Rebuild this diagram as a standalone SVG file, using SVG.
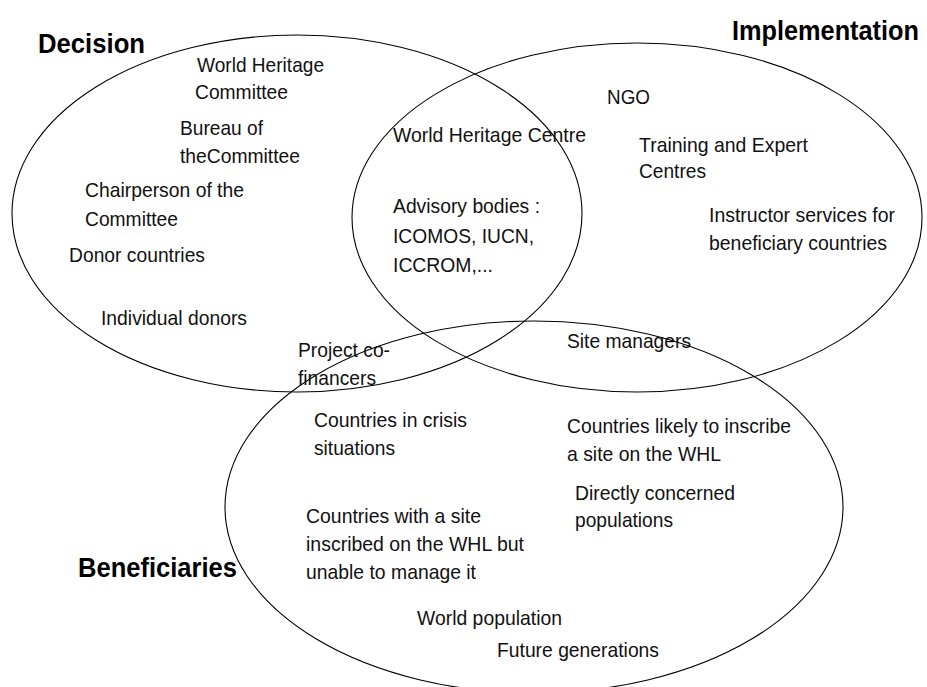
<svg xmlns="http://www.w3.org/2000/svg" width="927" height="687" viewBox="0 0 927 687">
<style>
.set{fill:none;stroke:#000;stroke-width:1.1}
.t{font-family:"Liberation Sans Narrow","Liberation Sans",Arial,sans-serif;font-size:21px;fill:#111}
.h{font-family:"Liberation Sans Narrow","Liberation Sans",Arial,sans-serif;font-size:28px;font-weight:bold;fill:#000}
</style>
<rect width="927" height="687" fill="#fff"/>
<g id="decision">
<ellipse class="set" cx="297" cy="213.5" rx="285" ry="178.5"/>
<text class="h" x="38" y="53" textLength="107" lengthAdjust="spacingAndGlyphs">Decision</text>
<text class="t" x="197" y="72" textLength="127" lengthAdjust="spacingAndGlyphs">World Heritage</text>
<text class="t" x="195" y="99" textLength="93" lengthAdjust="spacingAndGlyphs">Committee</text>
<text class="t" x="180" y="135" textLength="83" lengthAdjust="spacingAndGlyphs">Bureau of</text>
<text class="t" x="180" y="163" textLength="120" lengthAdjust="spacingAndGlyphs">theCommittee</text>
<text class="t" x="85" y="197" textLength="159" lengthAdjust="spacingAndGlyphs">Chairperson of the</text>
<text class="t" x="85" y="226" textLength="93" lengthAdjust="spacingAndGlyphs">Committee</text>
<text class="t" x="69" y="262" textLength="136" lengthAdjust="spacingAndGlyphs">Donor countries</text>
<text class="t" x="101" y="325" textLength="146" lengthAdjust="spacingAndGlyphs">Individual donors</text>
<text class="t" x="298" y="357" textLength="92" lengthAdjust="spacingAndGlyphs">Project co-</text>
<text class="t" x="298" y="385" textLength="78" lengthAdjust="spacingAndGlyphs">financers</text>
</g>
<g id="implementation">
<ellipse class="set" cx="637" cy="217.5" rx="285" ry="174.5"/>
<text class="h" x="732" y="40" textLength="187" lengthAdjust="spacingAndGlyphs">Implementation</text>
<text class="t" x="607" y="104" textLength="43" lengthAdjust="spacingAndGlyphs">NGO</text>
<text class="t" x="639" y="152" textLength="169" lengthAdjust="spacingAndGlyphs">Training and Expert</text>
<text class="t" x="639" y="178" textLength="67" lengthAdjust="spacingAndGlyphs">Centres</text>
<text class="t" x="709" y="222" textLength="186" lengthAdjust="spacingAndGlyphs">Instructor services for</text>
<text class="t" x="709" y="250" textLength="178" lengthAdjust="spacingAndGlyphs">beneficiary countries</text>
<text class="t" x="567" y="348" textLength="124" lengthAdjust="spacingAndGlyphs">Site managers</text>
</g>
<g id="shared">
<text class="t" x="393" y="142" textLength="193" lengthAdjust="spacingAndGlyphs">World Heritage Centre</text>
<text class="t" x="393" y="213" textLength="147" lengthAdjust="spacingAndGlyphs">Advisory bodies :</text>
<text class="t" x="393" y="243" textLength="141" lengthAdjust="spacingAndGlyphs">ICOMOS, IUCN,</text>
<text class="t" x="393" y="272" textLength="100" lengthAdjust="spacingAndGlyphs">ICCROM,...</text>
</g>
<g id="beneficiaries">
<ellipse class="set" cx="534" cy="507" rx="309" ry="186"/>
<text class="h" x="78" y="577" textLength="159" lengthAdjust="spacingAndGlyphs">Beneficiaries</text>
<text class="t" x="314" y="427" textLength="153" lengthAdjust="spacingAndGlyphs">Countries in crisis</text>
<text class="t" x="314" y="455" textLength="81" lengthAdjust="spacingAndGlyphs">situations</text>
<text class="t" x="567" y="433" textLength="224" lengthAdjust="spacingAndGlyphs">Countries likely to inscribe</text>
<text class="t" x="567" y="461" textLength="154" lengthAdjust="spacingAndGlyphs">a site on the WHL</text>
<text class="t" x="575" y="500" textLength="160" lengthAdjust="spacingAndGlyphs">Directly concerned</text>
<text class="t" x="575" y="527" textLength="98" lengthAdjust="spacingAndGlyphs">populations</text>
<text class="t" x="306" y="523" textLength="175" lengthAdjust="spacingAndGlyphs">Countries with a site</text>
<text class="t" x="306" y="551" textLength="218" lengthAdjust="spacingAndGlyphs">inscribed on the WHL but</text>
<text class="t" x="306" y="579" textLength="170" lengthAdjust="spacingAndGlyphs">unable to manage it</text>
<text class="t" x="417" y="625" textLength="145" lengthAdjust="spacingAndGlyphs">World population</text>
<text class="t" x="497" y="657" textLength="162" lengthAdjust="spacingAndGlyphs">Future generations</text>
</g>
<g id="connectors"/>
</svg>
